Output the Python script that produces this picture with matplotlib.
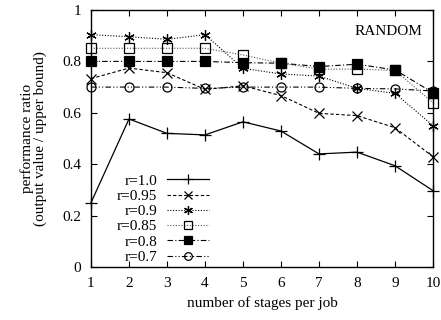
import matplotlib
matplotlib.use("Agg")
import matplotlib.pyplot as plt

plt.rcParams['font.family'] = ['Liberation Serif', 'DejaVu Serif']

stages = [1, 2, 3, 4, 5, 6, 7, 8, 9, 10]
r_labels = ["r=1.0", "r=0.95", "r=0.9", "r=0.85", "r=0.8", "r=0.7"]
r100 = [0.25, 0.576, 0.52, 0.514, 0.565, 0.529, 0.44, 0.447, 0.394, 0.297]
r095 = [0.733, 0.774, 0.756, 0.691, 0.705, 0.667, 0.598, 0.589, 0.542, 0.429]
r090 = [0.904, 0.896, 0.886, 0.904, 0.773, 0.751, 0.743, 0.695, 0.676, 0.55]
r085 = [0.851, 0.851, 0.851, 0.851, 0.825, 0.793, 0.77, 0.77, 0.765, 0.639]
r080 = [0.80, 0.80, 0.80, 0.80, 0.795, 0.793, 0.78, 0.789, 0.767, 0.678]
r070 = [0.70, 0.70, 0.70, 0.695, 0.70, 0.70, 0.70, 0.695, 0.693, 0.685]
series = [r100, r095, r090, r085, r080, r070]

styles = [
    dict(ls='-', marker='+', ms=8, mfc='none', color='black', lw=0.9),
    dict(ls=(0, (3, 2)), marker='x', ms=6.5, mfc='none', color='black', lw=0.8),
    dict(ls=(0, (1, 1.5)), marker=(6, 2, 0), ms=7.5, mfc='none', color='black', lw=0.8),
    dict(ls=(0, (1, 1.5)), marker='s', ms=6.5, mfc='none', color='#555555', mec='black', lw=0.8),
    dict(ls=(0, (5, 2, 1, 2)), marker='s', ms=7, mfc='black', color='black', lw=0.8),
    dict(ls=(0, (5, 2, 1, 2, 1, 2)), marker='o', ms=6.5, mfc='none', color='black', lw=0.8),
]

fig = plt.figure(figsize=(4.41, 3.2), dpi=100)
ax = fig.add_axes([0.2063, 0.1656, 0.9819 - 0.2063, 0.96875 - 0.1656])

for lab, ys, st in zip(r_labels, series, styles):
    ax.plot(stages, ys, label=lab, mew=0.9, clip_on=False, **st)

ax.set_xlim(1, 10)
ax.set_ylim(0, 1)
ax.set_xticks(stages)
ax.set_yticks([0, 0.2, 0.4, 0.6, 0.8, 1.0])
ax.set_yticklabels(["0", "0.2", "0.4", "0.6", "0.8", "1"])
ax.tick_params(direction='in', top=True, right=True, length=4, labelsize=11, pad=7)
for s in ax.spines.values():
    s.set_linewidth(1.0)

ax.set_xlabel("number of stages per job", fontsize=11, labelpad=5)
ax.set_ylabel("performance ratio\n(output value / upper bound)", fontsize=11, labelpad=11,
              linespacing=0.95)

ax.text(0.97, 0.915, "RANDOM", transform=ax.transAxes, ha='right', va='center', fontsize=11)

leg = ax.legend(loc='lower right', bbox_to_anchor=(0.345, 0.012), frameon=False,
                markerfirst=False, fontsize=11, handlelength=2.75,
                labelspacing=0.1, borderaxespad=0.0, borderpad=0.0,
                handletextpad=0.65, markerscale=0.85)
for t in leg.get_texts():
    t.set_ha('right')
leg._legend_box.align = "right"

fig.savefig("out.png", dpi=100)
